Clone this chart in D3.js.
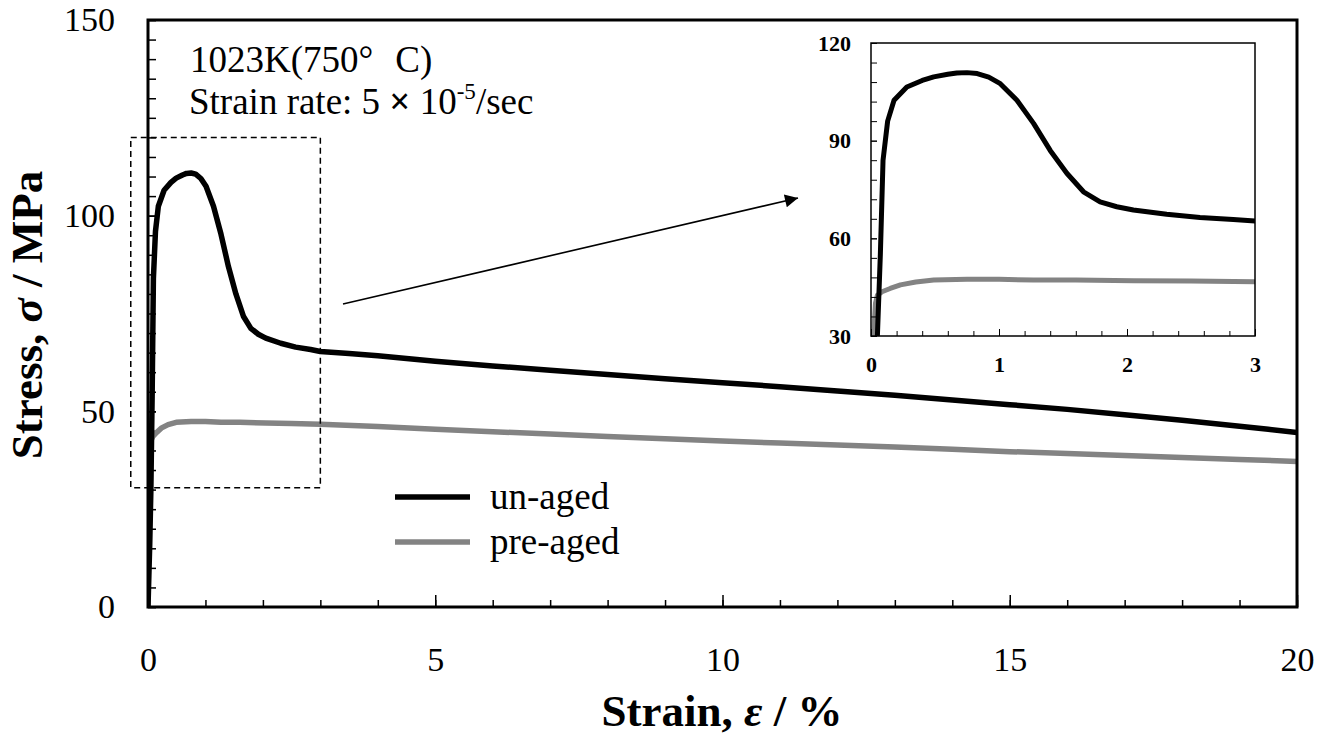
<!DOCTYPE html>
<html><head><meta charset="utf-8">
<script src="https://cdn.jsdelivr.net/npm/d3@7"></script>
<style>
html,body{margin:0;padding:0;background:#fff;}
svg{display:block;}
svg text{font-family:"Liberation Serif","Times New Roman",Times,serif !important;}
</style></head>
<body><svg id="c" width="1333" height="737"></svg>
<script>
// ---- data ----
const strainUnaged = [0,0.015,0.03,0.05,0.073,0.094,0.13,0.18,0.28,0.4,0.49,0.6,0.67,0.75,0.83,0.92,1.01,1.14,1.27,1.40,1.53,1.66,1.79,1.92,2.05,2.31,2.57,2.83,3.0,3.5,4,5,6,7,8,9,10,11,12,13,14,15,16,17,18,19,19.5,20];
const stressUnaged = [0,8,16,30,55,84,96,102.4,106.5,108.5,109.6,110.4,110.8,110.9,110.6,109.5,107.5,102.4,95.3,87,80,74.3,71.2,69.7,68.7,67.4,66.4,65.8,65.3,64.8,64.2,62.8,61.6,60.5,59.4,58.3,57.3,56.3,55.2,54.1,52.9,51.7,50.5,49.1,47.7,46.2,45.4,44.6];
const strainPreaged = [0,0.01,0.02,0.035,0.05,0.086,0.15,0.23,0.35,0.49,0.75,1.0,1.27,1.6,2.05,2.5,3,4,5,6,7,8,9,10,11,12,13,14,15,16,17,18,19,20];
const stressPreaged = [0,15,30,40,42.5,43.6,44.6,45.7,46.6,47.2,47.4,47.4,47.2,47.2,47.0,46.9,46.7,46.1,45.4,44.8,44.2,43.6,43.0,42.4,41.9,41.4,40.9,40.3,39.7,39.2,38.7,38.2,37.7,37.2];
const seriesNames = ["un-aged","pre-aged"];
const mainXTicks = [0,5,10,15,20];
const mainYTicks = [0,50,100,150];
const insetXTicks = [0,1,2,3];
const insetYTicks = [30,60,90,120];
const zoomRegion = {x0:-0.3,x1:3,y0:30.5,y1:120};
const annotation1 = "1023K(750°";
const annotation1b = "C)";
const annotation2 = "Strain rate: 5 ";
const annotation2x = "×";
const annotation2b = " 10";
const annotation2sup = "-5";
const annotation2end = "/sec";

// ---- layout ----
const svg = d3.select("#c");
const M = {l:148,r:1297,t:20,b:607};
const I = {l:871,r:1255,t:43,b:336};
const black = "#000", gray = "#838383";

const x = d3.scaleLinear().domain([0,20]).range([M.l,M.r]);
const y = d3.scaleLinear().domain([0,150]).range([M.b,M.t]);
const xi = d3.scaleLinear().domain([0,3]).range([I.l,I.r]);
const yi = d3.scaleLinear().domain([30,120]).range([I.b,I.t]);

const defs = svg.append("defs");
defs.append("clipPath").attr("id","clipMain").append("rect")
  .attr("x",M.l).attr("y",M.t).attr("width",M.r-M.l).attr("height",M.b-M.t);
defs.append("clipPath").attr("id","clipInset").append("rect")
  .attr("x",I.l).attr("y",I.t).attr("width",I.r-I.l).attr("height",I.b-I.t);
defs.append("marker").attr("id","arrow").attr("viewBox","0 0 10 10")
  .attr("refX",10).attr("refY",5).attr("markerWidth",22).attr("markerHeight",13)
  .attr("markerUnits","userSpaceOnUse").attr("orient","auto")
  .append("path").attr("d","M0,0 L10,5 L0,10 Z").attr("fill","#000");

const unaged = strainUnaged.map((s,i)=>[s,stressUnaged[i]]);
const preaged = strainPreaged.map((s,i)=>[s,stressPreaged[i]]);

function styleAxis(g, fs, bold){
  g.select(".domain").remove();
  g.selectAll("text").attr("font-size",fs).attr("font-weight",bold?"bold":"normal").attr("fill","#000");
  g.selectAll("line").attr("stroke","#000");
}

// ---- main axes ----
const gx = svg.append("g").attr("transform",`translate(0,${M.b})`);
gx.call(d3.axisBottom(x).tickValues(d3.range(0,21,1)).tickSize(-7).tickFormat(""));
styleAxis(gx,0,false); gx.selectAll("line").attr("stroke-width",1.5);
const gx2 = svg.append("g").attr("transform",`translate(0,${M.b})`);
gx2.call(d3.axisBottom(x).tickValues(mainXTicks).tickSize(-12).tickPadding(40).tickFormat(d3.format("d")));
styleAxis(gx2,34,false); gx2.selectAll("line").attr("stroke-width",1.5);

const gy = svg.append("g").attr("transform",`translate(${M.l},0)`);
gy.call(d3.axisLeft(y).tickValues(d3.range(0,151,5)).tickSize(-8).tickFormat(""));
styleAxis(gy,0,false); gy.selectAll("line").attr("stroke-width",1.5);
const gy2 = svg.append("g").attr("transform",`translate(${M.l},0)`);
gy2.call(d3.axisLeft(y).tickValues(mainYTicks).tickSize(-8).tickPadding(33).tickFormat(d3.format("d")));
styleAxis(gy2,34,false); gy2.selectAll("line").attr("stroke-width",1.5);

// ---- main curves ----
const lineMain = d3.line().x(d=>x(d[0])).y(d=>y(d[1]));
const gm = svg.append("g").attr("clip-path","url(#clipMain)");
gm.append("path").datum(preaged).attr("d",lineMain).attr("fill","none")
  .attr("stroke",gray).attr("stroke-width",5.5).attr("stroke-linejoin","round");
gm.append("path").datum(unaged).attr("d",lineMain).attr("fill","none")
  .attr("stroke",black).attr("stroke-width",5.5).attr("stroke-linejoin","round");

// frame
svg.append("rect").attr("x",M.l).attr("y",M.t).attr("width",M.r-M.l).attr("height",M.b-M.t)
  .attr("fill","none").attr("stroke","#000").attr("stroke-width",3);

// zoom region dashed box
svg.append("rect")
  .attr("x",x(zoomRegion.x0)).attr("y",y(zoomRegion.y1))
  .attr("width",x(zoomRegion.x1)-x(zoomRegion.x0)).attr("height",y(zoomRegion.y0)-y(zoomRegion.y1))
  .attr("fill","none").attr("stroke","#000").attr("stroke-width",1.5).attr("stroke-dasharray","6,4");

// arrow
svg.append("line").attr("x1",343).attr("y1",304).attr("x2",798).attr("y2",198)
  .attr("stroke","#000").attr("stroke-width",1.6).attr("marker-end","url(#arrow)");

// ---- inset ----
svg.append("rect").attr("x",I.l).attr("y",I.t).attr("width",I.r-I.l).attr("height",I.b-I.t)
  .attr("fill","#fff");
const lineInset = d3.line().x(d=>xi(d[0])).y(d=>yi(d[1]));
const gi = svg.append("g").attr("clip-path","url(#clipInset)");
gi.append("path").datum(preaged).attr("d",lineInset).attr("fill","none")
  .attr("stroke",gray).attr("stroke-width",5).attr("stroke-linejoin","round");
gi.append("path").datum(unaged).attr("d",lineInset).attr("fill","none")
  .attr("stroke",black).attr("stroke-width",5).attr("stroke-linejoin","round");

const gix = svg.append("g").attr("transform",`translate(0,${I.b})`);
gix.call(d3.axisBottom(xi).tickValues(d3.range(0,3.01,0.2)).tickSize(-5).tickFormat(""));
styleAxis(gix,0,false); gix.selectAll("line").attr("stroke-width",1);
const gix2 = svg.append("g").attr("transform",`translate(0,${I.b})`);
gix2.call(d3.axisBottom(xi).tickValues(insetXTicks).tickSize(-7).tickPadding(20).tickFormat(d3.format("d")));
styleAxis(gix2,22,true); gix2.selectAll("line").attr("stroke-width",1);

const giy = svg.append("g").attr("transform",`translate(${I.l},0)`);
giy.call(d3.axisLeft(yi).tickValues(d3.range(30,121,6)).tickSize(-6).tickFormat(""));
styleAxis(giy,0,false); giy.selectAll("line").attr("stroke-width",1);
const giy2 = svg.append("g").attr("transform",`translate(${I.l},0)`);
giy2.call(d3.axisLeft(yi).tickValues(insetYTicks).tickSize(-6).tickPadding(20).tickFormat(d3.format("d")));
styleAxis(giy2,22,true); giy2.selectAll("line").attr("stroke-width",1);

svg.append("rect").attr("x",I.l).attr("y",I.t).attr("width",I.r-I.l).attr("height",I.b-I.t)
  .attr("fill","none").attr("stroke","#000").attr("stroke-width",1.5);

// ---- axis titles ----
const xt = svg.append("text").attr("x",722).attr("y",726).attr("text-anchor","middle")
  .attr("font-size",45).attr("font-weight","bold");
xt.append("tspan").text("Strain, ");
xt.append("tspan").attr("font-style","italic").text("ε");
xt.append("tspan").text(" / %");

const yt = svg.append("text").attr("transform","translate(42,315) rotate(-90)")
  .attr("text-anchor","middle").attr("font-size",45).attr("font-weight","bold");
yt.append("tspan").text("Stress, ");
yt.append("tspan").attr("font-style","italic").text("σ");
yt.append("tspan").text(" /  MPa");

// ---- annotations ----
const a1 = svg.append("text").attr("x",190).attr("y",72).attr("font-size",37);
a1.append("tspan").text(annotation1);
a1.append("tspan").attr("dx",22).text(annotation1b);
const a2 = svg.append("text").attr("x",189).attr("y",114).attr("font-size",37);
a2.append("tspan").text(annotation2);
a2.append("tspan").attr("font-weight","bold").text(annotation2x);
a2.append("tspan").text(annotation2b);
a2.append("tspan").attr("font-size",23).attr("dy",-15).text(annotation2sup);
a2.append("tspan").attr("dy",15).text(annotation2end);

// ---- legend ----
const leg = svg.append("g");
[[black,497,509],[gray,542,554]].forEach((c,i)=>{
  leg.append("line").attr("x1",395).attr("x2",470).attr("y1",c[1]).attr("y2",c[1])
    .attr("stroke",c[0]).attr("stroke-width",5.5);
  leg.append("text").attr("x",490).attr("y",c[2]).attr("font-size",37).text(seriesNames[i]);
});
</script></body></html>
